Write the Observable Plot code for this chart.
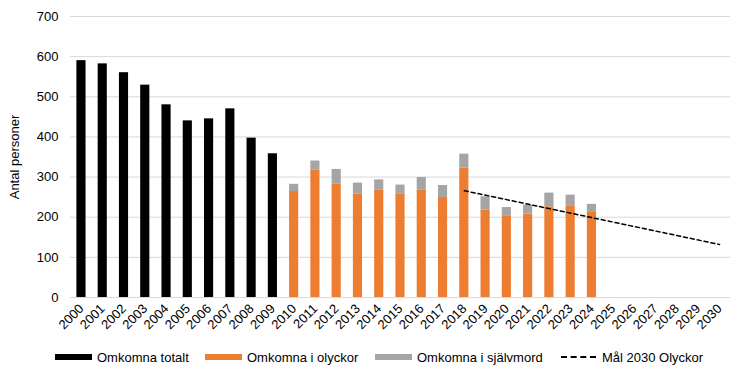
<!DOCTYPE html>
<html>
<head>
<meta charset="utf-8">
<script src="https://cdn.jsdelivr.net/npm/d3@7"></script>
<script src="https://cdn.jsdelivr.net/npm/@observablehq/plot@0.6"></script>
<style>
  html, body { margin: 0; padding: 0; background: #fff; }
  body { position: relative; width: 746px; height: 377px; overflow: hidden; font-family: "Liberation Sans", Arial, sans-serif; }
  #legend { position: absolute; left: 0; top: 347px; width: 746px; height: 20px; font-size: 13px; color: #000; }
  .item { position: absolute; top: 0; display: flex; align-items: center; height: 20px; white-space: nowrap; }
  .sw { width: 37px; height: 6px; margin-right: 5px; }
  .dash { width: 35px; height: 0; border-top: 2px dashed #000; margin-right: 6px; }
</style>
</head>
<body>
<div id="chart"></div>
<div id="legend">
  <div class="item" style="left:55px"><div class="sw" style="background:#000"></div>Omkomna totalt</div>
  <div class="item" style="left:205px"><div class="sw" style="background:#ED7D31"></div>Omkomna i olyckor</div>
  <div class="item" style="left:375px"><div class="sw" style="background:#A5A5A5"></div>Omkomna i självmord</div>
  <div class="item" style="left:561px"><div class="dash"></div>Mål 2030 Olyckor</div>
</div>
<script>
const years = ["2000","2001","2002","2003","2004","2005","2006","2007","2008","2009","2010","2011","2012","2013","2014","2015","2016","2017","2018","2019","2020","2021","2022","2023","2024","2025","2026","2027","2028","2029","2030"];

const totaltYears = ["2000","2001","2002","2003","2004","2005","2006","2007","2008","2009"];
const totalt = [590, 582, 560, 529, 480, 440, 445, 470, 397, 358];

const splitYears = ["2010","2011","2012","2013","2014","2015","2016","2017","2018","2019","2020","2021","2022","2023","2024"];
const olyckor = [264, 317, 282, 257, 267, 257, 267, 249, 322, 218, 202, 208, 226, 227, 212];
const sjalvmord = [18, 23, 37, 28, 26, 23, 32, 30, 35, 33, 22, 22, 34, 28, 20];

const malYears = ["2018", "2030"];
const malValues = [266, 132];

const yTicks = [0, 100, 200, 300, 400, 500, 600, 700];

const totRows = totaltYears.map((y, i) => ({year: y, value: totalt[i], serie: "Omkomna totalt"}));
const splitRows = [];
splitYears.forEach((y, i) => {
  splitRows.push({year: y, value: olyckor[i], serie: "Omkomna i olyckor"});
  splitRows.push({year: y, value: sjalvmord[i], serie: "Omkomna i självmord"});
});
const malRows = malYears.map((y, i) => ({year: y, value: malValues[i]}));

const chart = Plot.plot({
  width: 746,
  height: 340,
  marginLeft: 70,
  marginRight: 16,
  marginTop: 16,
  marginBottom: 43,
  style: {fontFamily: "'Liberation Sans', Arial, sans-serif", fontSize: "13px", color: "#000", background: "#fff"},
  x: {domain: years, type: "band", round: false, paddingInner: 0.57, paddingOuter: 0.3, label: null, tickSize: 0, tickPadding: 9, tickRotate: -45},
  y: {domain: [0, 700], ticks: yTicks, label: "Antal personer", labelAnchor: "center", labelArrow: "none", labelOffset: 61, tickSize: 0, tickPadding: 12, grid: false},
  color: {domain: ["Omkomna totalt", "Omkomna i olyckor", "Omkomna i självmord"], range: ["#000000", "#ED7D31", "#A5A5A5"]},
  marks: [
    Plot.gridY(yTicks.filter(d => d > 0), {stroke: "#D9D9D9", strokeOpacity: 1, strokeWidth: 1}),
    Plot.barY(totRows, {x: "year", y: "value", fill: "serie"}),
    Plot.barY(splitRows, Plot.stackY({x: "year", y: "value", fill: "serie", order: ["Omkomna i olyckor", "Omkomna i självmord"]})),
    Plot.ruleY([0], {stroke: "#D9D9D9", strokeWidth: 1}),
    Plot.line(malRows, {x: "year", y: "value", stroke: "#000", strokeWidth: 1.5, strokeDasharray: "4,3"})
  ]
});
document.getElementById("chart").appendChild(chart);
</script>
</body>
</html>
